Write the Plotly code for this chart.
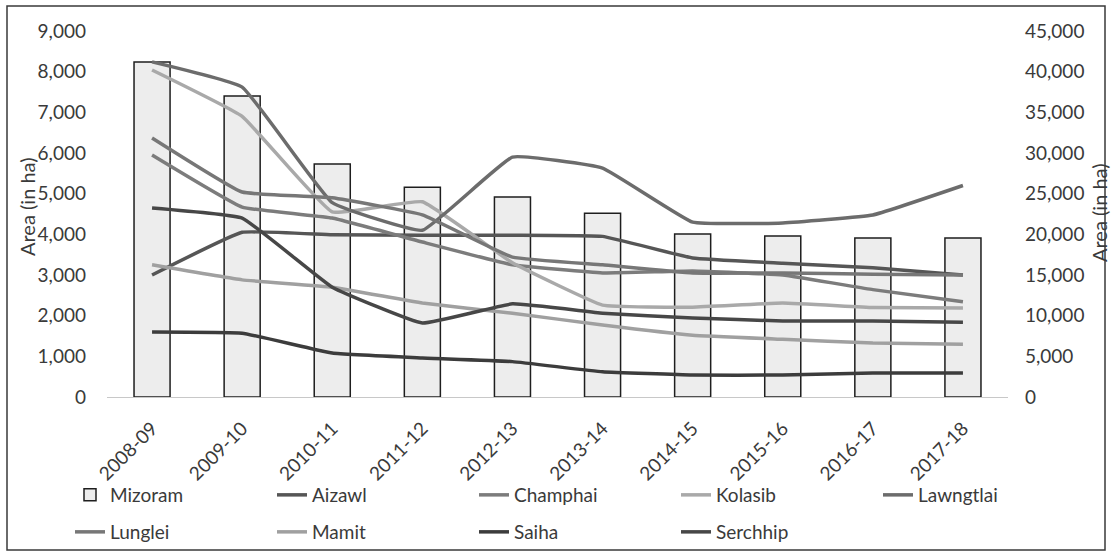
import plotly.graph_objects as go

categories = ["2008-09", "2009-10", "2010-11", "2011-12", "2012-13",
              "2013-14", "2014-15", "2015-16", "2016-17", "2017-18"]

mizoram = [41200, 37000, 28650, 25800, 24600, 22600, 20050, 19800, 19550, 19550]

aizawl    = [3000, 4050, 3990, 3980, 3980, 3950, 3420, 3290, 3180, 3000]
champhai  = [5950, 4670, 4400, 3810, 3250, 3050, 3100, 3000, 2640, 2340]
kolasib   = [8040, 6900, 4550, 4800, 3300, 2260, 2210, 2310, 2200, 2190]
lawngtlai = [8240, 7620, 4780, 4100, 5900, 5630, 4300, 4280, 4475, 5200]
lunglei   = [6370, 5040, 4900, 4480, 3440, 3250, 3050, 3050, 3020, 3000]
mamit     = [3250, 2880, 2700, 2310, 2060, 1770, 1520, 1420, 1330, 1300]
saiha     = [1600, 1570, 1080, 960, 870, 620, 540, 540, 590, 590]
serchhip  = [4650, 4400, 2700, 1820, 2290, 2060, 1940, 1870, 1870, 1840]

left_ticks = list(range(0, 9001, 1000))
right_ticks = list(range(0, 45001, 5000))

FONT = "Lato, 'Open Sans', sans-serif"
TXT = "#3a3a3a"

W, H = 1111, 553
ML, MR, MT, MB = 107, 103, 31, 156
PW, PH = W - ML - MR, H - MT - MB


def px(xp):
    return (xp - ML) / PW


def py(yp):
    return (H - MB - yp) / PH


fig = go.Figure()

fig.add_trace(go.Bar(
    x=categories, y=mizoram, name="Mizoram", yaxis="y",
    width=0.4, marker=dict(color="#ededed", line=dict(color="#1e1e1e", width=1.5)),
    legend="legend",
))

series = [
    ("Aizawl", aizawl, "#565656", "legend"),
    ("Champhai", champhai, "#7c7c7c", "legend"),
    ("Kolasib", kolasib, "#a9a9a9", "legend"),
    ("Lawngtlai", lawngtlai, "#6c6c6c", "legend"),
    ("Lunglei", lunglei, "#777777", "legend2"),
    ("Mamit", mamit, "#a0a0a0", "legend2"),
    ("Saiha", saiha, "#3c3c3c", "legend2"),
    ("Serchhip", serchhip, "#474747", "legend2"),
]
for name, vals, col, lg in series:
    fig.add_trace(go.Scatter(
        x=categories, y=vals, name=name, yaxis="y2", mode="lines",
        line=dict(color=col, width=3.5, shape="spline", smoothing=0.3),
        legend=lg,
    ))

legend_common = dict(
    orientation="h", xanchor="left", yanchor="middle",
    font=dict(family=FONT, size=19, color=TXT),
    entrywidth=157, entrywidthmode="pixels",
    bgcolor="rgba(0,0,0,0)", traceorder="normal",
)

fig.update_layout(
    width=W, height=H,
    margin=dict(l=ML, r=MR, t=MT, b=MB, autoexpand=False),
    paper_bgcolor="white", plot_bgcolor="white",
    font=dict(family=FONT, size=19, color=TXT),
    barmode="overlay",
    xaxis=dict(
        type="category", range=[-0.5, 9.5], showgrid=False,
        showline=True, linecolor="#c8c8c8", linewidth=1,
        ticks="", tickangle=-45, tickfont=dict(size=19, color=TXT),
        ticklabelstandoff=12,
    ),
    yaxis=dict(
        side="right", range=[0, 45000], tickvals=right_ticks, tickformat=",",
        showgrid=False, zeroline=False, showline=False, ticks="",
        tickfont=dict(size=19, color=TXT), ticklabelstandoff=16,
    ),
    yaxis2=dict(
        overlaying="y", side="left", range=[0, 9000], tickvals=left_ticks,
        tickformat=",", showgrid=False, zeroline=False, showline=False, ticks="",
        tickfont=dict(size=19, color=TXT), ticklabelstandoff=20,
    ),
    legend=dict(x=px(70), y=py(495), **legend_common),
    legend2=dict(x=px(70), y=py(532), **legend_common),
    showlegend=True,
    annotations=[
        dict(text="Area (in ha)", xref="paper", yref="paper", x=px(27), y=py(207),
             textangle=-90, showarrow=False, font=dict(family=FONT, size=20, color=TXT),
             xanchor="center", yanchor="middle"),
        dict(text="Area (in ha)", xref="paper", yref="paper", x=px(1099), y=py(213),
             textangle=-90, showarrow=False, font=dict(family=FONT, size=20, color=TXT),
             xanchor="center", yanchor="middle"),
    ],
    shapes=[
        dict(type="rect", xref="paper", yref="paper",
             x0=px(7), x1=px(1105), y0=py(550), y1=py(6),
             line=dict(color="#3a3a3a", width=1.5), layer="below"),
    ],
)

fig.write_html("out.html")
